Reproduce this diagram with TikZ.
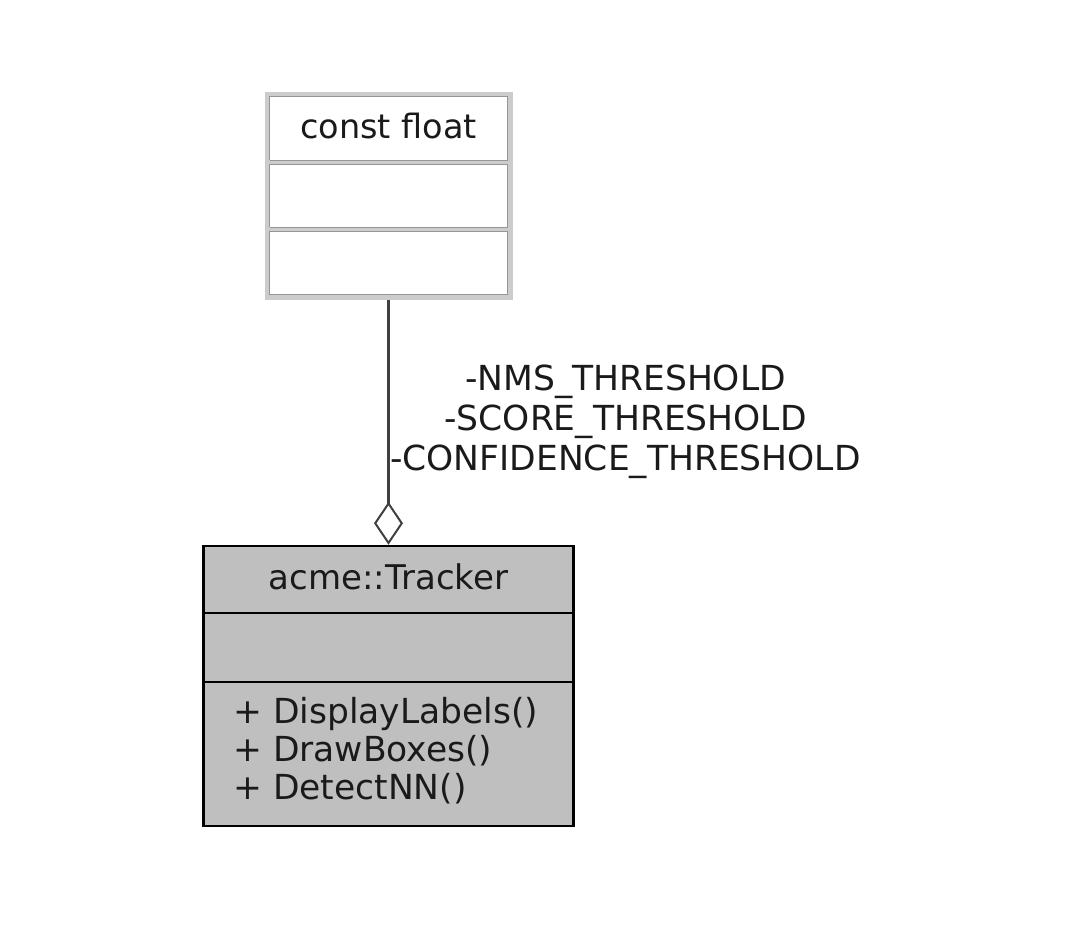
\documentclass[tikz,border=0pt]{standalone}
\usepackage{fontspec}
\setmainfont{DejaVu Sans}
\usetikzlibrary{arrows.meta}
\definecolor{boxgrey}{RGB}{191,191,191}
\definecolor{lightband}{RGB}{204,204,204}
\definecolor{innerline}{RGB}{150,150,150}
\definecolor{edgecol}{RGB}{64,64,64}
\definecolor{txt}{RGB}{26,26,26}
\tikzset{
  umltext/.style={font=\fontsize{34.5}{40}\selectfont, text=txt, inner sep=0pt},
  extbox/.style={draw=lightband, line width=5pt, minimum width=243pt, minimum height=203pt, inner sep=0pt},
  clsbox/.style={draw=black, fill=boxgrey, line width=2.5pt, minimum width=370pt, minimum height=280pt, inner sep=0pt},
  agg/.style={draw=edgecol, line width=2.2pt, -{Diamond[open, length=43pt, width=29pt, line width=2pt]}}
}
\begin{document}
\begin{tikzpicture}[x=1pt, y=-1pt]
\useasboundingbox (0,0) rectangle (1090,930);
\fill[white] (0,0) rectangle (1090,930);
% external class const float
\node[extbox] (cf) at (388.5,195.5) {};
\draw[innerline, line width=1pt] (269.5,96.5) rectangle (507.5,294.5);
\draw[lightband, line width=4pt] (267,162) -- (510,162);
\draw[lightband, line width=4pt] (267,229) -- (510,229);
\draw[innerline, line width=1pt] (269.5,160) -- (507.5,160);
\draw[innerline, line width=1pt] (269.5,164) -- (507.5,164);
\draw[innerline, line width=1pt] (269.5,227) -- (507.5,227);
\draw[innerline, line width=1pt] (269.5,231) -- (507.5,231);
\node[umltext, font=\fontsize{33.5}{40}\selectfont] (cft) at (388.5,126) {const float};
% class acme::Tracker
\node[clsbox] (tr) at (388.5,686) {};
\draw[black, line width=2.5pt] (203.5,613) -- (573.5,613);
\draw[black, line width=2.5pt] (203.5,682) -- (573.5,682);
\node[umltext, font=\fontsize{34}{40}\selectfont] (trt) at (388.5,577) {acme::Tracker};
\node[umltext, anchor=west] (m1) at (233,714) {+ DisplayLabels()};
\node[umltext, anchor=west] (m2) at (233,751) {+ DrawBoxes()};
\node[umltext, anchor=west] (m3) at (233,789) {+ DetectNN()};
% aggregation
\draw[agg] (cf.south) -- (tr.north);
\node[umltext, align=center] (lbl) at (625.5,422)
  {-NMS\_THRESHOLD\\-SCORE\_THRESHOLD\\-CONFIDENCE\_THRESHOLD};
\end{tikzpicture}
\end{document}
